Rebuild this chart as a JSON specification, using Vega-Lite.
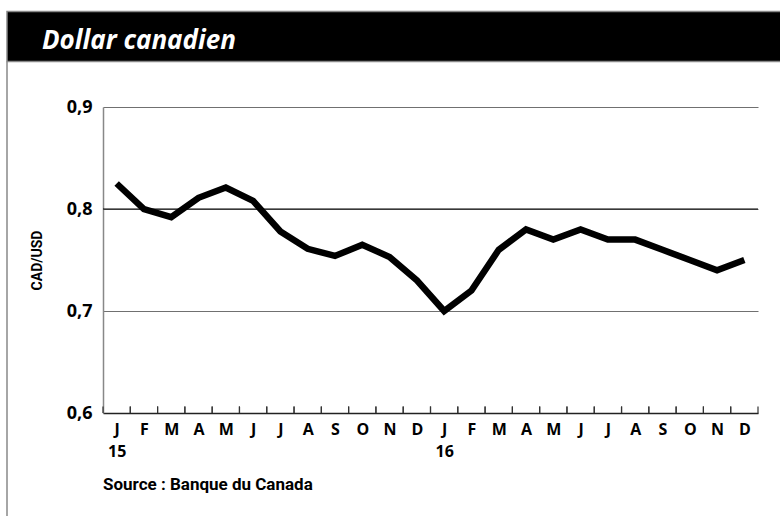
{
  "$schema": "https://vega.github.io/schema/vega-lite/v6.json",
  "background": "white",
  "padding": {"left": 6, "top": 10, "right": 0, "bottom": 0},
  "width": 655,
  "height": 306,
  "view": {"stroke": null},
  "datasets": {
    "taux": [
      {"periode": "2015-01", "cad_usd": 0.825},
      {"periode": "2015-02", "cad_usd": 0.800},
      {"periode": "2015-03", "cad_usd": 0.792},
      {"periode": "2015-04", "cad_usd": 0.811},
      {"periode": "2015-05", "cad_usd": 0.821},
      {"periode": "2015-06", "cad_usd": 0.808},
      {"periode": "2015-07", "cad_usd": 0.778},
      {"periode": "2015-08", "cad_usd": 0.761},
      {"periode": "2015-09", "cad_usd": 0.754},
      {"periode": "2015-10", "cad_usd": 0.765},
      {"periode": "2015-11", "cad_usd": 0.753},
      {"periode": "2015-12", "cad_usd": 0.730},
      {"periode": "2016-01", "cad_usd": 0.700},
      {"periode": "2016-02", "cad_usd": 0.720},
      {"periode": "2016-03", "cad_usd": 0.760},
      {"periode": "2016-04", "cad_usd": 0.780},
      {"periode": "2016-05", "cad_usd": 0.770},
      {"periode": "2016-06", "cad_usd": 0.780},
      {"periode": "2016-07", "cad_usd": 0.770},
      {"periode": "2016-08", "cad_usd": 0.770},
      {"periode": "2016-09", "cad_usd": 0.760},
      {"periode": "2016-10", "cad_usd": 0.750},
      {"periode": "2016-11", "cad_usd": 0.740},
      {"periode": "2016-12", "cad_usd": 0.750}
    ]
  },
  "resolve": {"scale": {"x": "independent"}, "axis": {"x": "independent"}},
  "layer": [
    {
      "data": {"values": [{"element": "grille 0,8"}]},
      "mark": {"type": "rule", "color": "black", "strokeWidth": 1.1},
      "encoding": {
        "x": {"datum": 0, "type": "quantitative", "scale": {"domain": [0, 1], "nice": false, "zero": false}, "axis": null},
        "x2": {"datum": 1},
        "y": {"datum": 0.8, "type": "quantitative", "scale": {"domain": [0.6, 0.9], "zero": false, "nice": false}}
      }
    },
    {
      "data": {"name": "taux"},
      "mark": {"type": "line", "color": "black", "strokeWidth": 6.5, "strokeJoin": "miter", "strokeCap": "butt"},
      "encoding": {
        "x": {
          "field": "periode",
          "type": "ordinal",
          "scale": {"paddingInner": 0, "paddingOuter": 0},
          "axis": {
            "domainColor": "#222",
            "domainWidth": 1.5,
            "ticks": false,
            "labelAngle": 0,
            "labelAlign": "center",
            "labelBaseline": "top",
            "labelPadding": 8,
            "labelFont": "Open Sans",
            "labelFontWeight": "bold",
            "labelFontSize": 16,
            "labelColor": "black",
            "labelLineHeight": 22,
            "labelExpr": "[['J','F','M','A','M','J','J','A','S','O','N','D'][toNumber(slice(datum.value, 5, 7)) - 1], slice(datum.value, 5, 7) == '01' ? slice(datum.value, 2, 4) : '']",
            "title": null
          }
        },
        "y": {
          "field": "cad_usd",
          "type": "quantitative",
          "scale": {"domain": [0.6, 0.9], "zero": false, "nice": false},
          "axis": {
            "values": [0.6, 0.7, 0.8, 0.9],
            "domainColor": "#888",
            "domainWidth": 1.5,
            "ticks": false,
            "grid": true,
            "gridColor": "#707070",
            "gridWidth": 1.1,
            "labelPadding": 11,
            "labelFont": "Open Sans",
            "labelFontWeight": "bold",
            "labelFontSize": 18,
            "labelColor": "black",
            "labelExpr": "datum.value < 0.65 ? '0,6' : datum.value < 0.75 ? '0,7' : datum.value < 0.85 ? '0,8' : '0,9'",
            "title": "CAD/USD",
            "titleFont": "Roboto",
            "titleFontWeight": "bold",
            "titleFontSize": 14,
            "titleColor": "black",
            "titlePadding": 22
          }
        }
      }
    },
    {
      "data": {"name": "taux"},
      "mark": {"type": "rule", "color": "#333", "strokeWidth": 1.2},
      "encoding": {
        "x": {"field": "periode", "type": "ordinal", "bandPosition": 0, "scale": {"paddingInner": 0, "paddingOuter": 0}, "axis": null},
        "y": {"datum": 0.6},
        "y2": {"datum": 0.6064}
      }
    },
    {
      "data": {"name": "taux"},
      "mark": {"type": "rule", "color": "#333", "strokeWidth": 1.2},
      "encoding": {
        "x": {"field": "periode", "type": "ordinal", "bandPosition": 1, "scale": {"paddingInner": 0, "paddingOuter": 0}, "axis": null},
        "y": {"datum": 0.6},
        "y2": {"datum": 0.6064}
      }
    },
    {
      "data": {"values": [{"element": "bandeau"}]},
      "mark": {"type": "rect", "fill": "black", "stroke": "#888", "strokeWidth": 1.5},
      "encoding": {
        "x": {"datum": -0.14656, "type": "quantitative", "scale": {"domain": [0, 1], "nice": false, "zero": false}, "axis": null},
        "x2": {"datum": 1.03511},
        "y": {"datum": 0.99363},
        "y2": {"datum": 0.94461}
      }
    },
    {
      "data": {"values": [{"element": "cadre"}]},
      "mark": {"type": "rule", "color": "#888", "strokeWidth": 1.5},
      "encoding": {
        "x": {"datum": -0.14656, "type": "quantitative", "scale": {"domain": [0, 1], "nice": false, "zero": false}, "axis": null},
        "y": {"datum": 0.94461},
        "y2": {"datum": 0.49657}
      }
    },
    {
      "data": {"values": [{"texte": "Dollar canadien"}]},
      "mark": {"type": "text", "color": "white", "font": "Open Sans", "fontSize": 26, "fontWeight": "bold", "fontStyle": "italic", "align": "left", "baseline": "alphabetic"},
      "encoding": {
        "text": {"field": "texte"},
        "x": {"datum": -0.09313, "type": "quantitative", "scale": {"domain": [0, 1], "nice": false, "zero": false}, "axis": null},
        "y": {"datum": 0.95735}
      }
    },
    {
      "data": {"values": [{"texte": "Source : Banque du Canada"}]},
      "mark": {"type": "text", "color": "black", "font": "Roboto", "fontSize": 17, "fontWeight": "bold", "align": "left", "baseline": "alphabetic"},
      "encoding": {
        "text": {"field": "texte"},
        "x": {"datum": 0, "type": "quantitative", "scale": {"domain": [0, 1], "nice": false, "zero": false}, "axis": null},
        "y": {"datum": 0.52402}
      }
    }
  ]
}
